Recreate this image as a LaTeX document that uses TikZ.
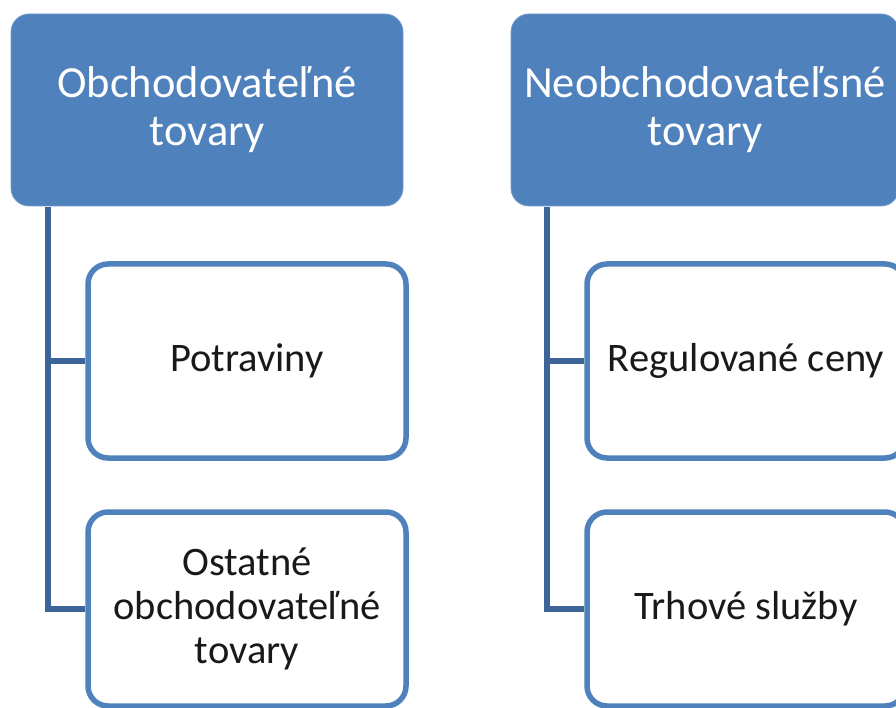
\documentclass[tikz,border=0pt]{standalone}
\usepackage{fontspec}
\setmainfont{Carlito}
\definecolor{boxblue}{HTML}{4F81BD}
\definecolor{connblue}{HTML}{3D6597}
\begin{document}
\begin{tikzpicture}[x=1pt,y=1pt,
  topbox/.style={fill=boxblue,draw=boxblue!80!white,line width=0.8pt,rounded corners=18pt,
    minimum width=392pt,minimum height=192pt,inner sep=0pt,align=center,text=white,
    font=\fontsize{44.5}{48}\selectfont},
  childbox/.style={fill=white,draw=boxblue,line width=5.5pt,rounded corners=20pt,
    minimum width=318pt,minimum height=194pt,inner sep=0pt,align=center,text=black!90,
    font=\fontsize{40.5}{44}\selectfont},
  conn/.style={draw=connblue,line width=6pt}]
\useasboundingbox (0,0) rectangle (896,-708);
\clip (0,0) rectangle (896,-708);
% top boxes
\node[topbox] (tl) at (207,-110) {Obchodovateľné\\tovary};
\node[topbox,minimum width=388pt] (tr) at (705,-110) {Neobchodovateľsné\\tovary};
% children
\node[childbox] (l1) at (247,-361) {Potraviny};
\node[childbox] (l2) at (247,-609) {Ostatné\\obchodovateľné\\tovary};
\node[childbox] (r1) at (746,-361) {Regulované ceny};
\node[childbox] (r2) at (746,-609) {Trhové služby};
% connectors
\coordinate (sl) at (48,-207);
\coordinate (sr) at (547,-207);
\draw[conn] (sl) |- (l2.west);
\draw[conn] (sl |- l1.west) -- (l1.west);
\draw[conn] (sr) |- (r2.west);
\draw[conn] (sr |- r1.west) -- (r1.west);
\end{tikzpicture}
\end{document}
